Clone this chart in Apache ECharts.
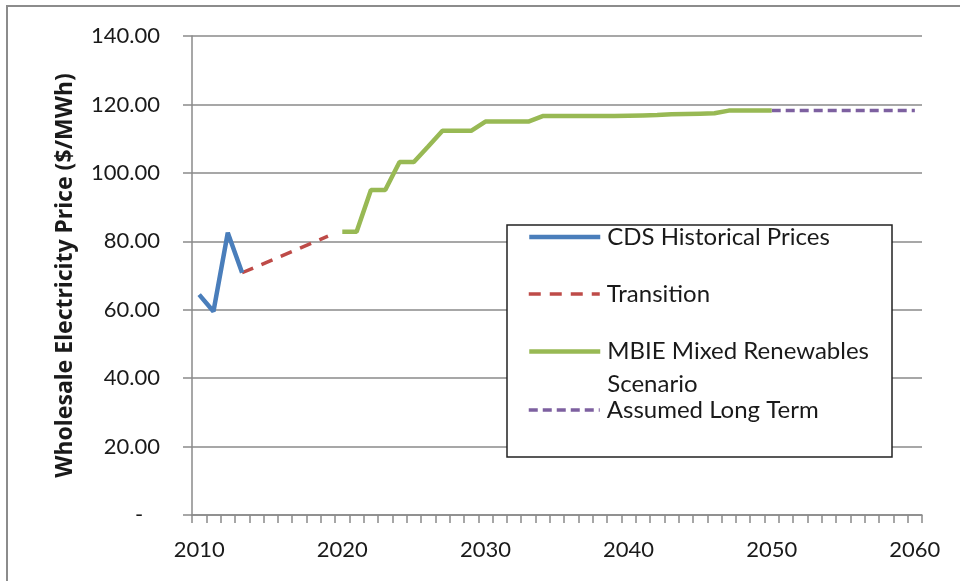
<!DOCTYPE html>
<html>
<head>
<meta charset="utf-8">
<script src="https://cdn.jsdelivr.net/npm/echarts@6/dist/echarts.min.js"></script>
<style>
  html, body { margin: 0; padding: 0; background: #fff; }
  #chart { width: 960px; height: 581px; }
</style>
</head>
<body>
<div id="chart"></div>
<script>
var years = ['2010','2011','2012','2013','2014','2015','2016','2017','2018','2019',
             '2020','2021','2022','2023','2024','2025','2026','2027','2028','2029',
             '2030','2031','2032','2033','2034','2035','2036','2037','2038','2039',
             '2040','2041','2042','2043','2044','2045','2046','2047','2048','2049',
             '2050','2051','2052','2053','2054','2055','2056','2057','2058','2059','2060'];

// CDS historical 2010-2013
var historical = [['2010', 64.4], ['2011', 59.5], ['2012', 82.5], ['2013', 70.8]];
// straight transition 2013 -> 2019
var transition = [['2013', 70.8], ['2019', 81.5]];
// MBIE scenario 2020-2050
var mbieYears = ['2020','2021','2022','2023','2024','2025','2026','2027','2028','2029',
                 '2030','2031','2032','2033','2034','2035','2036','2037','2038','2039',
                 '2040','2041','2042','2043','2044','2045','2046','2047','2048','2049','2050'];
var mbieValues = [82.8, 82.8, 95.0, 95.0, 103.2, 103.2, 107.7, 112.3, 112.3, 112.3,
                  115.0, 115.0, 115.0, 115.0, 116.6, 116.6, 116.6, 116.6, 116.6, 116.6,
                  116.7, 116.8, 116.9, 117.1, 117.2, 117.3, 117.4, 118.2, 118.2, 118.2, 118.2];
// assumed long term 2050-2060
var longTermYears = ['2050','2051','2052','2053','2054','2055','2056','2057','2058','2059','2060'];
var longTermValues = [118.2, 118.2, 118.2, 118.2, 118.2, 118.2, 118.2, 118.2, 118.2, 118.2, 118.2];

var yTicks = [0, 20, 40, 60, 80, 100, 120, 140];

var FONT = 'Lato';
var TXT = '#1a1a1a';
var GRID = '#8a8a8a';

function pairs(xs, ys) {
  return xs.map(function(x, i) { return [x, ys[i]]; });
}

function legendAt(name, top, lineW, lineH, fmt) {
  var l = {
    data: [name],
    left: 527,
    top: top,
    padding: 0,
    orient: 'vertical',
    itemWidth: 71,
    itemHeight: 14,
    itemGap: 0,
    selectedMode: false,
    // hide the symbol dot, keep only the line
    itemStyle: { color: 'transparent', borderColor: 'transparent', borderWidth: 0, opacity: 0 },
    lineStyle: { width: lineW },
    textStyle: { fontFamily: FONT, fontSize: 24, color: TXT, lineHeight: lineH || 28, padding: [0, 0, 0, 2] }
  };
  if (fmt) l.formatter = fmt;
  return l;
}

var chart = echarts.init(document.getElementById('chart'));

var option = {
  backgroundColor: '#fff',
  animation: false,
  grid: { left: 192, right: 38, top: 36, bottom: 66, containLabel: false },
  graphic: [
    {
      type: 'rect', z: 0, silent: true,
      shape: { x: 7, y: 6, width: 980, height: 600 },
      style: { fill: 'none', stroke: '#8c8c8c', lineWidth: 2 }
    },
    {
      type: 'rect', z: 3, silent: true,
      shape: { x: 507, y: 225, width: 385, height: 232 },
      style: { fill: '#fff', stroke: '#222', lineWidth: 1.5 }
    }
  ],
  legend: [
    legendAt('CDS Historical Prices', 223, 4.5),
    legendAt('Transition', 280, 3.5),
    legendAt('MBIE Mixed Renewables Scenario', 302, 4.5, 33, function() {
      return '\nMBIE Mixed Renewables\nScenario';
    }),
    legendAt('Assumed Long Term', 396, 3.5)
  ],
  xAxis: {
    type: 'category',
    data: years,
    boundaryGap: true,
    axisLine: { lineStyle: { color: GRID, width: 1.5 } },
    axisTick: { show: true, interval: 0, alignWithLabel: false, length: 8, lineStyle: { color: GRID, width: 1.5 } },
    axisLabel: { interval: 9, margin: 24, fontFamily: FONT, fontSize: 22, color: TXT },
    splitLine: { show: false }
  },
  yAxis: {
    type: 'value',
    min: 0,
    max: 140,
    interval: 20,
    name: 'Wholesale Electricity Price ($/MWh)',
    nameLocation: 'middle',
    nameGap: 115,
    nameRotate: 90,
    nameTextStyle: { fontFamily: 'Noto Sans', fontSize: 23, fontWeight: 'bold', color: TXT },
    axisLine: { show: true, lineStyle: { color: GRID, width: 1.5 } },
    axisTick: { show: true, length: 9, lineStyle: { color: GRID, width: 1.5 } },
    axisLabel: {
      margin: 32,
      fontFamily: FONT, fontSize: 22, color: TXT,
      formatter: function(v) {
        if (yTicks.indexOf(v) < 0) return '';
        return v === 0 ? '-   ' : v.toFixed(2);
      }
    },
    splitLine: { show: true, lineStyle: { color: GRID, width: 1.5 } }
  },
  series: [
    {
      name: 'CDS Historical Prices',
      type: 'line',
      data: historical,
      symbol: 'none',
      z: 5,
      lineStyle: { color: '#4a7ebb', width: 4.5 },
      itemStyle: { color: '#4a7ebb' }
    },
    {
      name: 'Transition',
      type: 'line',
      data: transition,
      symbol: 'none',
      z: 4,
      lineStyle: { color: '#be4b48', width: 3.5, type: [12, 9] },
      itemStyle: { color: '#be4b48' }
    },
    {
      name: 'MBIE Mixed Renewables Scenario',
      type: 'line',
      data: pairs(mbieYears, mbieValues),
      symbol: 'none',
      z: 5,
      lineStyle: { color: '#98b954', width: 4.5 },
      itemStyle: { color: '#98b954' }
    },
    {
      name: 'Assumed Long Term',
      type: 'line',
      data: pairs(longTermYears, longTermValues),
      symbol: 'none',
      z: 4,
      lineStyle: { color: '#7d60a0', width: 3.5, type: [9, 5] },
      itemStyle: { color: '#7d60a0' }
    }
  ]
};

chart.setOption(option);
</script>
</body>
</html>
